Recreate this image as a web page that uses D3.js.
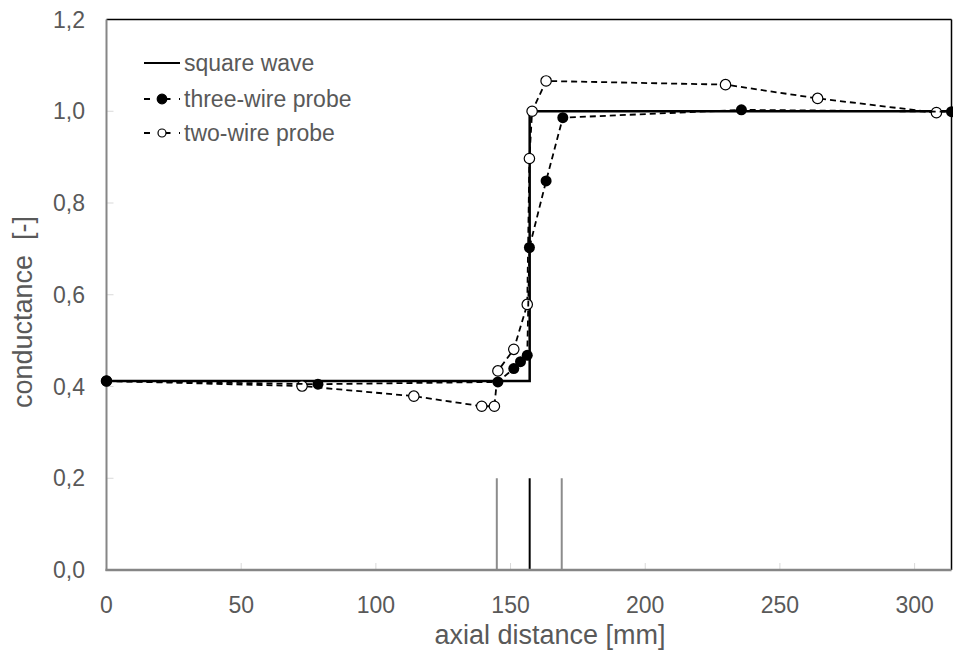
<!DOCTYPE html>
<html>
<head>
<meta charset="utf-8">
<script src="https://cdn.jsdelivr.net/npm/d3@7"></script>
<style>
  body { margin: 0; background: #fff; }
  text { font-family: "Liberation Sans", Arial, sans-serif; fill: #595959; }
</style>
</head>
<body>
<div id="chart"></div>
<script>
// square wave (reference step)
const waveX = [0, 157.1, 157.1, 313.7]
const waveY = [0.412, 0.412, 1.0, 1.0]

// three-wire probe
const threeX = [0, 78.5, 145.3, 151.2, 153.7, 156.2, 157.0, 163.2, 169.4, 235.7, 313.7]
const threeY = [0.412, 0.405, 0.410, 0.439, 0.454, 0.468, 0.703, 0.848, 0.986, 1.003, 0.999]

// two-wire probe
const twoX = [0, 72.6, 114.1, 139.3, 144.0, 145.3, 151.2, 156.2, 157.0, 158.0, 163.2, 229.8, 264.0, 308.1]
const twoY = [0.412, 0.401, 0.379, 0.357, 0.357, 0.434, 0.481, 0.579, 0.897, 1.0, 1.066, 1.058, 1.028, 0.997]

// vertical markers at the bottom
const markX = [144.9, 157.1, 169.0]
const markColor = ["#8c8c8c", "#000", "#8c8c8c"]
const markTop = 0.2

const xTicks = [0, 50, 100, 150, 200, 250, 300]
const yTicks = [0, 0.2, 0.4, 0.6, 0.8, 1.0, 1.2]

const legendLabels = ["square wave", "three-wire probe", "two-wire probe"]

const W = 953, H = 656
const svg = d3.select("#chart").append("svg")
    .attr("width", W)
    .attr("height", H)

const x = d3.scaleLinear().domain([0, 313.7]).range([106.5, 951.5])
const y = d3.scaleLinear().domain([0, 1.2]).range([570, 19.5])

const fmt = d => d3.format(".1f")(d).replace(".", ",")

// ticks (inside, light gray)
svg.append("g").selectAll("line")
    .data(yTicks.slice(1, -1))
    .join("line")
    .attr("x1", x(0)).attr("x2", x(0) + 7)
    .attr("y1", d => y(d)).attr("y2", d => y(d))
    .style("stroke", "#d9d9d9").style("stroke-width", 1)

svg.append("g").selectAll("line")
    .data(xTicks.slice(1))
    .join("line")
    .attr("x1", d => x(d)).attr("x2", d => x(d))
    .attr("y1", y(0)).attr("y2", y(0) - 7)
    .style("stroke", "#d9d9d9").style("stroke-width", 1)

// frame: top/right black, left/bottom gray
svg.append("line")
    .attr("x1", x(0)).attr("x2", x(313.7))
    .attr("y1", y(1.2)).attr("y2", y(1.2))
    .style("stroke", "#000").style("stroke-width", 1.5)
svg.append("line")
    .attr("x1", x(313.7)).attr("x2", x(313.7))
    .attr("y1", y(1.2)).attr("y2", y(0))
    .style("stroke", "#000").style("stroke-width", 1.5)

// markers
svg.append("g").selectAll("line")
    .data(markX)
    .join("line")
    .attr("x1", d => x(d)).attr("x2", d => x(d))
    .attr("y1", y(0)).attr("y2", y(markTop))
    .style("stroke", (d, i) => markColor[i])
    .style("stroke-width", 2)

svg.append("line")
    .attr("x1", x(0)).attr("x2", x(0))
    .attr("y1", y(1.2)).attr("y2", y(0) + 1)
    .style("stroke", "#868686").style("stroke-width", 2)
svg.append("line")
    .attr("x1", x(0) - 1).attr("x2", x(313.7))
    .attr("y1", y(0)).attr("y2", y(0))
    .style("stroke", "#868686").style("stroke-width", 2.5)

// tick labels
svg.append("g").selectAll("text")
    .data(yTicks)
    .join("text")
    .attr("x", 85)
    .attr("y", d => y(d))
    .attr("dy", "0.35em")
    .attr("text-anchor", "end")
    .style("font-size", "23px")
    .text(fmt)

svg.append("g").selectAll("text")
    .data(xTicks)
    .join("text")
    .attr("x", d => x(d))
    .attr("y", 605)
    .attr("dy", "0.35em")
    .attr("text-anchor", "middle")
    .style("font-size", "23px")
    .text(d => d)

// axis titles
svg.append("text")
    .attr("x", 550).attr("y", 635)
    .attr("dy", "0.35em")
    .attr("text-anchor", "middle")
    .style("font-size", "27px")
    .text("axial distance [mm]")

svg.append("text")
    .attr("transform", "translate(23,312) rotate(-90)")
    .attr("dy", "0.35em")
    .attr("text-anchor", "middle")
    .style("font-size", "27px")
    .style("white-space", "pre")
    .text("conductance  [-]")

const line = d3.line().x(d => x(d[0])).y(d => y(d[1]))

// square wave
svg.append("path")
    .datum(d3.zip(waveX, waveY))
    .attr("d", line)
    .style("fill", "none")
    .style("stroke", "#000")
    .style("stroke-width", 2.5)

// two-wire probe (drawn under three-wire)
const two = d3.zip(twoX, twoY)
svg.append("path")
    .datum(two)
    .attr("d", line)
    .style("fill", "none")
    .style("stroke", "#000")
    .style("stroke-width", 1.8)
    .style("stroke-dasharray", "6,4")
svg.append("g").selectAll("circle")
    .data(two)
    .join("circle")
    .attr("cx", d => x(d[0])).attr("cy", d => y(d[1]))
    .attr("r", 5.2)
    .style("fill", "#fff").style("stroke", "#000").style("stroke-width", 1.2)

// three-wire probe
const three = d3.zip(threeX, threeY)
svg.append("path")
    .datum(three)
    .attr("d", line)
    .style("fill", "none")
    .style("stroke", "#000")
    .style("stroke-width", 1.8)
    .style("stroke-dasharray", "6,4")
svg.append("g").selectAll("circle")
    .data(three)
    .join("circle")
    .attr("cx", d => x(d[0])).attr("cy", d => y(d[1]))
    .attr("r", 5.5)
    .style("fill", "#000")

// legend
const lg = svg.append("g").attr("transform", "translate(144,0)")
const rows = [63, 99, 133]

lg.append("line")
    .attr("x1", 0).attr("x2", 36)
    .attr("y1", rows[0]).attr("y2", rows[0])
    .style("stroke", "#000").style("stroke-width", 2)

;[1, 2].forEach(i => {
    lg.append("line")
        .attr("x1", 0).attr("x2", 36)
        .attr("y1", rows[i]).attr("y2", rows[i])
        .style("stroke", "#000").style("stroke-width", 1.8)
        .style("stroke-dasharray", "6,8.5,6,0")
    lg.append("circle")
        .attr("cx", 18).attr("cy", rows[i])
        .attr("r", i === 1 ? 4.8 : 4)
        .style("fill", i === 1 ? "#000" : "#fff")
        .style("stroke", "#000").style("stroke-width", 1.2)
})

lg.selectAll("text")
    .data(legendLabels)
    .join("text")
    .attr("x", 40)
    .attr("y", (d, i) => rows[i])
    .attr("dy", "0.35em")
    .style("font-size", "23px")
    .text(d => d)
</script>
</body>
</html>
